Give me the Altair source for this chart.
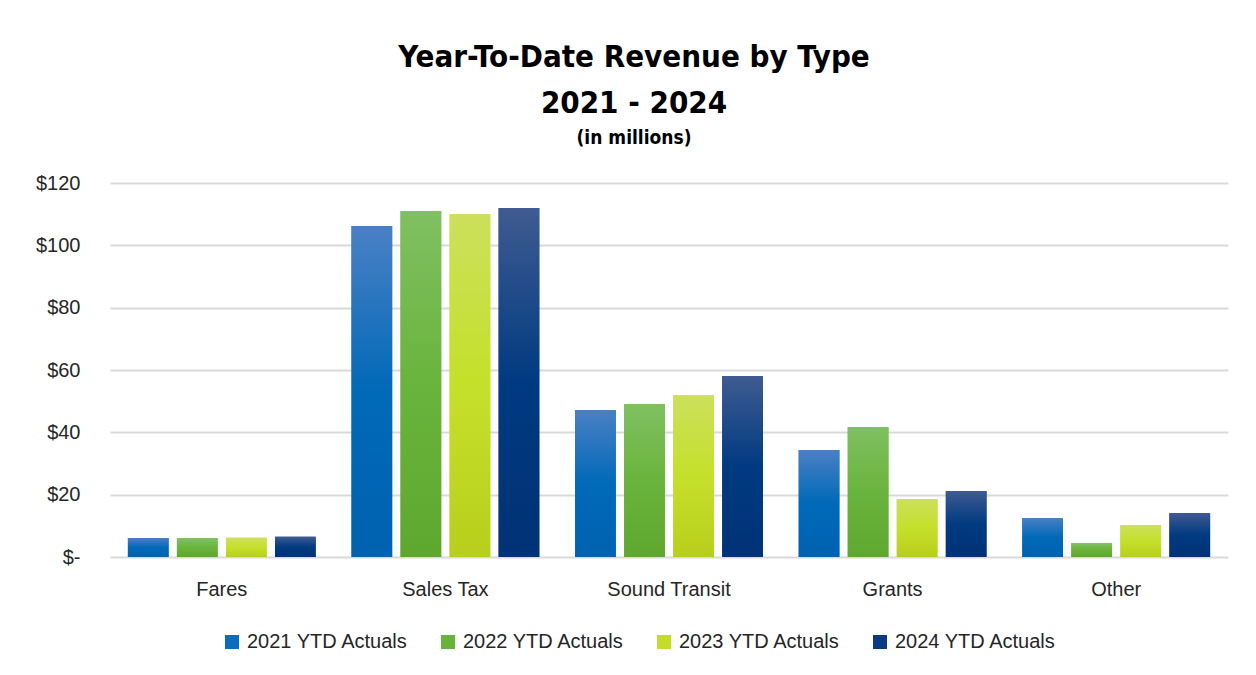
import altair as alt
import pandas as pd

categories = ["Fares", "Sales Tax", "Sound Transit", "Grants", "Other"]
years = ["2021 YTD Actuals", "2022 YTD Actuals", "2023 YTD Actuals", "2024 YTD Actuals"]
v2021 = [6.1, 106.2, 47.2, 34.3, 12.5]
v2022 = [6.1, 111.0, 49.1, 41.7, 4.5]
v2023 = [6.2, 110.0, 52.0, 18.6, 10.3]
v2024 = [6.5, 112.0, 58.1, 21.2, 14.1]
y_ticks = [0, 20, 40, 60, 80, 100, 120]

series = [v2021, v2022, v2023, v2024]
rows = []
for yr, vals in zip(years, series):
    for c, v in zip(categories, vals):
        rows.append({"Category": c, "Series": yr, "Value": v})
df = pd.DataFrame(rows)

flat = ["#0a6cbf", "#66b23a", "#c3dd2a", "#0a3a82"]
grads = [
    ("#4a80c4", "#0069b8", "#0062b0"),
    ("#80c062", "#69b43c", "#5fa82f"),
    ("#cce05c", "#c5e02a", "#b7cf1c"),
    ("#3f5b91", "#003a80", "#003276"),
]

FONT = "Liberation Sans"
TFONT = "DejaVu Sans Condensed"
SP = "\u2002"

x = alt.X("Category:N", sort=categories,
          scale=alt.Scale(domain=categories, paddingInner=0.16, paddingOuter=0.08),
          axis=alt.Axis(title=None, labelAngle=0, labelFontSize=20, ticks=False,
                        domain=False, labelPadding=22, labelColor="#262626",
                        labelFont=FONT, grid=False))
xo = alt.XOffset("Series:N", sort=years,
                 scale=alt.Scale(domain=years, paddingInner=0.17, paddingOuter=0.0))
y = alt.Y("Value:Q", scale=alt.Scale(domain=[0, 120]),
          axis=alt.Axis(title=None, values=y_ticks, ticks=False, domain=False,
                        labelExpr="datum.value == 0 ? '$-" + SP + "' : '$' + datum.value",
                        labelFontSize=20, labelFont=FONT, labelColor="#262626",
                        labelPadding=30, gridColor="#d9d9d9", gridWidth=2))

base = alt.Chart(df).mark_bar().encode(
    x=x, xOffset=xo, y=y,
    color=alt.Color("Series:N", sort=years,
                    scale=alt.Scale(domain=years, range=flat),
                    legend=alt.Legend(title=None, orient="none", direction="horizontal",
                                      legendX=112, legendY=449, symbolType="square",
                                      symbolSize=196, symbolStrokeWidth=0,
                                      labelFontSize=20, labelFont=FONT, labelLimit=400,
                                      labelColor="#262626", columnPadding=29,
                                      symbolOffset=0, labelOffset=5)),
)

layers = [base]
for yr, (top, mid, bot) in zip(years, grads):
    g = alt.Gradient(gradient="linear", x1=0, x2=0, y1=0, y2=1,
                     stops=[alt.GradientStop(color=top, offset=0),
                            alt.GradientStop(color=mid, offset=0.5),
                            alt.GradientStop(color=bot, offset=1)])
    layers.append(
        alt.Chart(df).transform_filter(alt.datum.Series == yr)
        .mark_bar(color=g).encode(x=x, xOffset=xo, y=y)
    )

chart = alt.layer(*layers).properties(
    width=1118, height=374,
    background="white",
    autosize=alt.AutoSizeParams(type="none"),
    padding={"left": 102, "top": 175, "right": 20, "bottom": 110},
    title=alt.TitleParams(
        text=["Year-To-Date Revenue by Type", "2021 - 2024"],
        subtitle="(in millions)",
        font=TFONT, fontSize=31, fontWeight="bold", color="black",
        subtitleFont=TFONT, subtitleFontSize=19, subtitleFontWeight="bold",
        subtitleColor="black", lineHeight=46, subtitlePadding=9,
        anchor="middle", dx=-35, offset=24,
    ),
).configure_view(stroke=None)

chart.save("out.html", embed_options={"renderer": "svg", "actions": False})
